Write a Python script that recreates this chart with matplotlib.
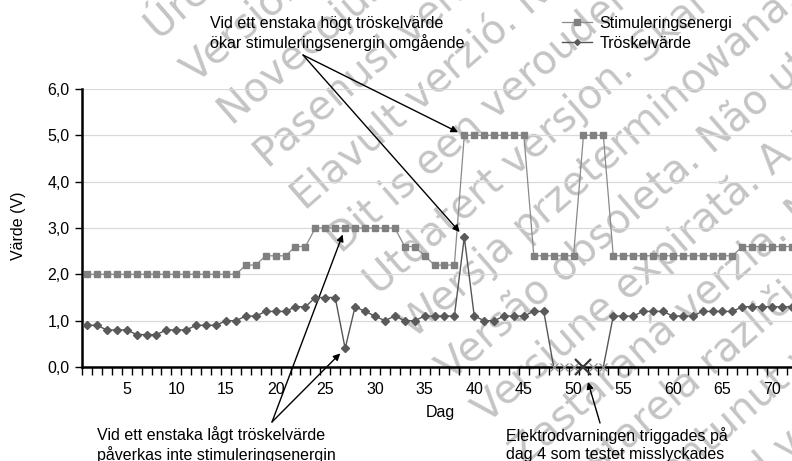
import matplotlib
matplotlib.use("Agg")
import matplotlib.pyplot as plt
from matplotlib.lines import Line2D
from matplotlib.ticker import FuncFormatter

plt.rcParams['font.family'] = ['Liberation Sans', 'DejaVu Sans']

# --- data -------------------------------------------------------------
days = list(range(1, 73))

stim = [2.0, 2.0, 2.0, 2.0, 2.0, 2.0, 2.0, 2.0, 2.0, 2.0, 2.0, 2.0, 2.0, 2.0, 2.0, 2.0,
        2.2, 2.2, 2.4, 2.4, 2.4, 2.6, 2.6,
        3.0, 3.0, 3.0, 3.0, 3.0, 3.0, 3.0, 3.0, 3.0,
        2.6, 2.6, 2.4, 2.2, 2.2, 2.2,
        5.0, 5.0, 5.0, 5.0, 5.0, 5.0, 5.0,
        2.4, 2.4, 2.4, 2.4, 2.4,
        5.0, 5.0, 5.0,
        2.4, 2.4, 2.4, 2.4, 2.4, 2.4, 2.4, 2.4, 2.4, 2.4, 2.4, 2.4, 2.4,
        2.6, 2.6, 2.6, 2.6, 2.6, 2.6]

thresh = [0.9, 0.9, 0.8, 0.8, 0.8, 0.7, 0.7, 0.7, 0.8, 0.8, 0.8, 0.9, 0.9, 0.9, 1.0, 1.0,
          1.1, 1.1, 1.2, 1.2, 1.2, 1.3, 1.3, 1.5, 1.5, 1.5, 0.4, 1.3, 1.2, 1.1, 1.0, 1.1,
          1.0, 1.0, 1.1, 1.1, 1.1, 1.1, 2.8, 1.1, 1.0, 1.0, 1.1, 1.1, 1.1, 1.2, 1.2,
          0.0, 0.0, 0.0, 0.0, 0.0, 0.0,
          1.1, 1.1, 1.1, 1.2, 1.2, 1.2, 1.1, 1.1, 1.1, 1.2, 1.2, 1.2, 1.2,
          1.3, 1.3, 1.3, 1.3, 1.3, 1.3]

warning_day = 51

labels = ['Stimuleringsenergi', 'Tröskelvärde']

watermark_lines = [
    "Úrelt útgáfa. Notið ekki.",
    "Versione obsoleta. Non utilizzare.",
    "Novecojusi versija. Neizmantot.",
    "Pasenusi versija. Nenaudokite.",
    "Elavult verzió. Ne használja!",
    "Dit is een verouderde versie. Niet gebruiken.",
    "Utdatert versjon. Skal ikke brukes.",
    "Wersja przeterminowana. Nie używać.",
    "Versão obsoleta. Não utilize.",
    "Versiune expirată. A nu se utiliza.",
    "Zastaraná verzia. Nepoužívať.",
    "Zastarela različica. Ne uporabite.",
    "Vanhentunut versio. Älä käytä.",
    "Föråldrad version. Använd ej.",
]

W, H = 792, 461
FS = 11.5


def fx(px):
    return px / W


def fy(py):
    return 1 - py / H


fig = plt.figure(figsize=(W / 100, H / 100), dpi=100)
fig.patch.set_facecolor('white')

# watermark behind everything
for i, line in enumerate(watermark_lines):
    x0 = 159 + 36.5 * i
    y0 = 41 + 42.6 * i
    fig.text(fx(x0), fy(y0), line, family='DejaVu Sans', fontsize=29,
             color='#c4c4c4', rotation=41, rotation_mode='anchor',
             ha='left', va='baseline', zorder=-5)

ax = fig.add_axes([fx(82), fy(367), 1 - fx(82), (367 - 89) / H])
ax.set_facecolor('none')

ax.plot(days, stim, color='#8a8a8a', lw=0.9, marker='s', ms=5,
        mfc='#808080', mec='#808080', zorder=3)

valid = [i for i, v in enumerate(thresh) if v > 0]
ax.plot(days, thresh, color='#555555', lw=1.0, marker='D', ms=4,
        mfc='#5a5a5a', mec='#5a5a5a', markevery=valid, zorder=4)

zero_days = [d for d, v in zip(days, thresh) if v == 0 and d != warning_day]
ax.plot(zero_days, [0] * len(zero_days), ls='none', marker='x', ms=6, mew=0.9,
        color='#8c8c8c', clip_on=False, zorder=5)
ax.plot([warning_day], [0], ls='none', marker='x', ms=12, mew=1.6,
        color='#3a3a3a', clip_on=False, zorder=6)

ax.set_xlim(0.57, 72.0)
ax.set_ylim(0, 6)

ax.set_yticks(range(7))
ax.yaxis.set_major_formatter(FuncFormatter(lambda v, _: f'{v:.1f}'.replace('.', ',')))
ax.set_xticks(range(5, 71, 5))
ax.set_xticks([d + 0.5 for d in range(0, 72)], minor=True)
ax.tick_params(axis='x', which='major', length=0, pad=11, labelsize=FS)
ax.tick_params(axis='x', which='minor', length=6, width=1, direction='out')
ax.tick_params(axis='y', length=5, width=1, pad=4, labelsize=FS)

for s in ('top', 'right'):
    ax.spines[s].set_visible(False)
for s in ('left', 'bottom'):
    ax.spines[s].set_linewidth(1.8)
    ax.spines[s].set_color('black')

ax.yaxis.grid(True, color='#d9d9d9', lw=0.9)
ax.set_axisbelow(True)

fig.text(fx(18), fy(226), 'Värde (V)', rotation=90, ha='center', va='center', fontsize=FS)
fig.text(fx(440), fy(412), 'Dag', ha='center', va='center', fontsize=FS)

# legend
handles = [
    Line2D([], [], color='#8a8a8a', lw=0.9, marker='s', ms=5, mfc='#808080', mec='#808080'),
    Line2D([], [], color='#555555', lw=1.0, marker='D', ms=3, mfc='#5a5a5a', mec='#5a5a5a'),
]
fig.legend(handles, labels, loc='upper left', bbox_to_anchor=(fx(562), fy(16)),
           frameon=False, borderpad=0, borderaxespad=0, handlelength=1.9,
           handletextpad=0.45, labelspacing=0.3, fontsize=FS)

# annotations
arrow = dict(arrowstyle='-|>', color='black', lw=1.0, mutation_scale=10,
             shrinkA=0, shrinkB=5)

fig.text(fx(210), fy(33.5), 'Vid ett enstaka högt tröskelvärde\nökar stimuleringsenergin omgående',
         ha='left', va='center', fontsize=FS, linespacing=1.2)
for yv in (stim[38], thresh[38]):
    ax.annotate('', xy=(39, yv), xycoords='data',
                xytext=(fx(303), fy(55)), textcoords='figure fraction',
                arrowprops=arrow, annotation_clip=False)

fig.text(fx(97), fy(444.5), 'Vid ett enstaka lågt tröskelvärde\npåverkas inte stimuleringsenergin',
         ha='left', va='center', fontsize=FS, linespacing=1.2)
for yv in (stim[26], thresh[26]):
    ax.annotate('', xy=(27, yv), xycoords='data',
                xytext=(fx(272), fy(422)), textcoords='figure fraction',
                arrowprops=arrow, annotation_clip=False)

fig.text(fx(506), fy(444.5), 'Elektrodvarningen triggades på\ndag 4 som testet misslyckades',
         ha='left', va='center', fontsize=FS, linespacing=1.2)
ax.annotate('', xy=(fx(588), fy(382)), xycoords='figure fraction',
            xytext=(fx(600), fy(423)), textcoords='figure fraction',
            arrowprops=dict(arrow, shrinkB=0), annotation_clip=False)

fig.savefig('out.png', dpi=100)
